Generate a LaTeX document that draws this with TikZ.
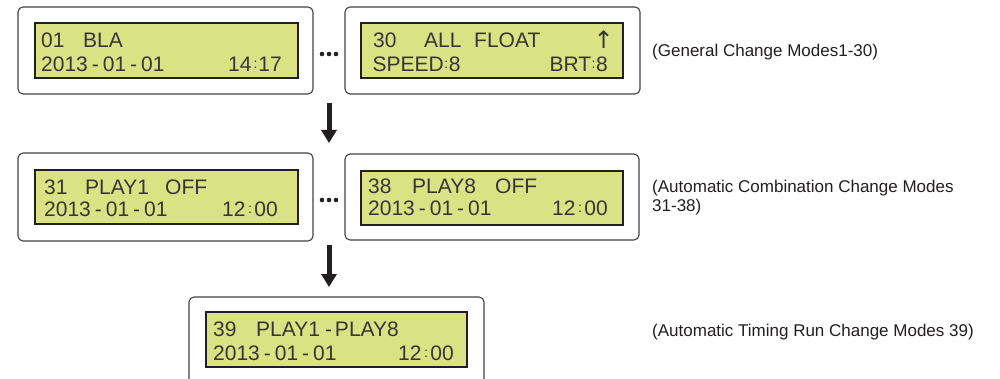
\documentclass[tikz,border=0pt]{standalone}
\usepackage{fontspec}
\setmainfont{Liberation Sans}
\newfontfamily\lcdfont{Liberation Sans}
\newfontfamily\symfont{DejaVu Sans}
\usetikzlibrary{arrows.meta}
\definecolor{ink}{RGB}{35,31,32}
\definecolor{lcd}{RGB}{218,226,132}
\newcommand\lcdc{\raisebox{3pt}{\fontsize{14}{14}\selectfont:}}
\newcommand\lh{\kern4pt-\kern4pt}
\begin{document}
\begin{tikzpicture}[x=1pt,y=-1pt,
  outer/.style={draw=ink!85, line width=1.1pt, rounded corners=5pt, fill=white, inner sep=0pt},
  screen/.style={draw=ink, line width=1.4pt, fill=lcd, inner sep=0pt},
  lt/.style={font=\lcdfont\fontsize{21}{22}\selectfont, text=ink!90, inner sep=0pt, anchor=base west},
  rt/.style={lt, anchor=base east},
  lab/.style={font=\fontsize{17}{19}\selectfont, text=ink, inner sep=0pt, anchor=base west},
  dotmark/.style={circle, fill=ink, inner sep=0pt, minimum size=4.6pt},
  flow/.style={-{Triangle[width=15pt,length=13pt]}, line width=5pt, draw=ink}]
\useasboundingbox (0,0) rectangle (1000,379);
\clip (0,0) rectangle (1000,379);
\fill[white] (0,0) rectangle (1000,379);

% row 1
\node[outer, minimum width=295pt, minimum height=87pt] (b1) at (165.5,50.5) {};
\node[screen, minimum width=263pt, minimum height=55pt] (s1) at (166.5,50.5) {};
\node[lt] (t1a) at (41,48) {01};
\node[lt] (t1b) at (83,48) {BLA};
\node[lt] (t1c) at (41,72) {2013\lh01\lh01};
\node[rt] (t1d) at (282,72) {14\kern2pt\lcdc\kern1pt17};

\node[outer, minimum width=295pt, minimum height=87pt] (b2) at (492.5,50.5) {};
\node[screen, minimum width=262pt, minimum height=55pt] (s2) at (492,50.5) {};
\node[lt] (t2a) at (373,48) {30};
\node[lt] (t2b) at (424,48) {ALL};
\node[lt] (t2c) at (474,48) {FLOAT};
\node[rt, font=\symfont\fontsize{24}{24}\selectfont] (t2d) at (614,48.5) {↑};
\node[lt] (t2e) at (372.5,72) {SPEED\kern0.5pt\lcdc\kern0.5pt8};
\node[rt] (t2f) at (608,72) {BRT\kern0.5pt\lcdc\kern0.5pt8};

\node[dotmark] (d1a) at (322,54) {};
\node[dotmark] (d1b) at (329,54) {};
\node[dotmark] (d1c) at (336,54) {};

\node[lab] (l1) at (652,57) {(General Change Modes1-30)};

% row 2
\node[outer, minimum width=295pt, minimum height=88pt] (b3) at (165.5,197) {};
\node[screen, minimum width=263pt, minimum height=54pt] (s3) at (166.5,197) {};
\node[lt] (t3a) at (44,195) {31};
\node[lt] (t3b) at (85,195) {PLAY1};
\node[lt] (t3c) at (165,195) {OFF};
\node[lt] (t3d) at (44,217) {2013\lh01\lh01};
\node[rt] (t3e) at (278,217) {12\kern2.5pt\lcdc\kern2.5pt00};

\node[outer, minimum width=294pt, minimum height=86pt] (b4) at (492,197) {};
\node[screen, minimum width=262pt, minimum height=54pt] (s4) at (492,198) {};
\node[lt] (t4a) at (368,194) {38};
\node[lt] (t4b) at (412,194) {PLAY8};
\node[lt] (t4c) at (495,194) {OFF};
\node[lt] (t4d) at (368,216) {2013\lh01\lh01};
\node[rt] (t4e) at (608,216) {12\kern2.5pt\lcdc\kern2.5pt00};

\node[dotmark] (d2a) at (322,200) {};
\node[dotmark] (d2b) at (329,200) {};
\node[dotmark] (d2c) at (336,200) {};

\node[lab] (l2a) at (652,193) {(Automatic Combination Change Modes};
\node[lab] (l2b) at (652,212) {31-38)};

% row 3
\node[outer, minimum width=295pt, minimum height=88pt] (b5) at (336.5,341) {};
\node[screen, minimum width=261pt, minimum height=55pt] (s5) at (336.5,339.5) {};
\node[lt] (t5a) at (213,336) {39};
\node[lt] (t5b) at (256,336) {PLAY1\kern1pt\lh\kern-1pt PLAY8};
\node[lt] (t5c) at (213,360) {2013\lh01\lh01};
\node[rt] (t5d) at (454,360) {12\kern2.5pt\lcdc\kern2.5pt00};

\node[lab] (l3) at (652,336) {(Automatic Timing Run Change Modes 39)};

% arrows
\coordinate (a1s) at (329,103);
\coordinate (a1e) at (329,143);
\coordinate (a2s) at (329,245);
\coordinate (a2e) at (329,287);
\draw[flow] (a1s) -- (a1e);
\draw[flow] (a2s) -- (a2e);
\end{tikzpicture}
\end{document}
